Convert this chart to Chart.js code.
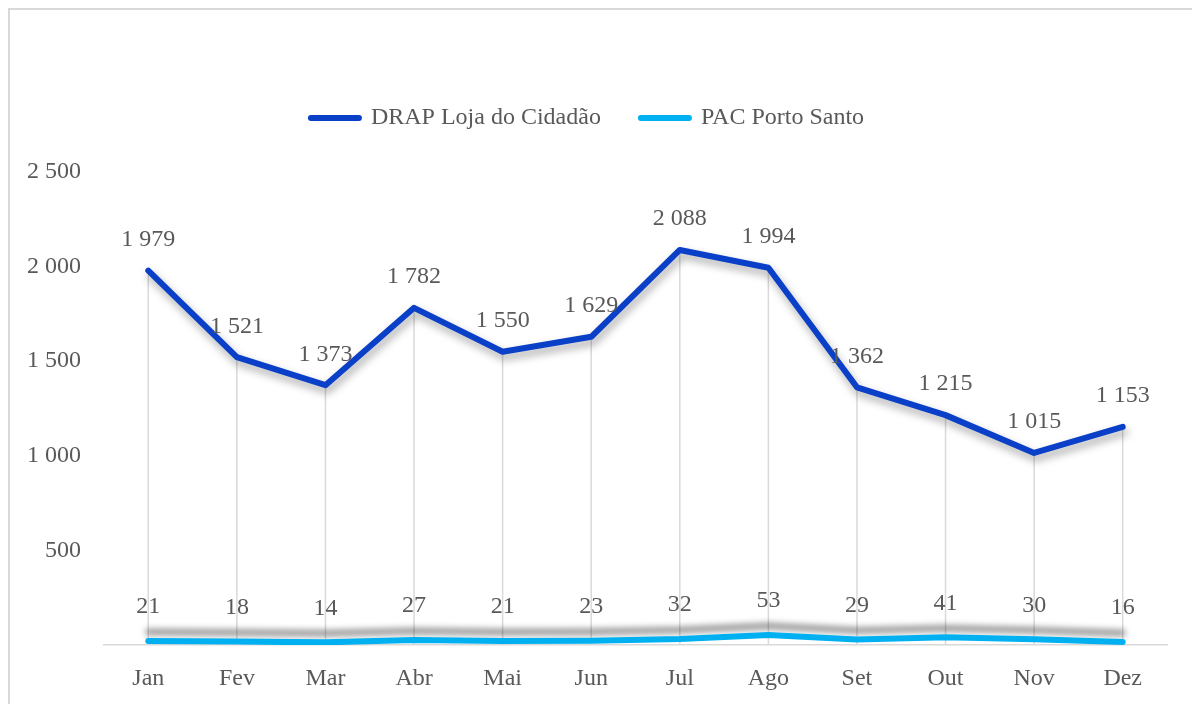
<!DOCTYPE html>
<html>
<head>
<meta charset="utf-8">
<script src="https://cdn.jsdelivr.net/npm/chart.js@4.4.1/dist/chart.umd.min.js"></script>
<style>
  html, body { margin: 0; padding: 0; background: #fff; overflow: hidden; }
  #wrap { position: relative; width: 1192px; height: 704px; }
  #frame { position: absolute; left: 8px; top: 8px; width: 1200px; height: 720px;
           border: 2px solid #d9d9d9; box-sizing: border-box; pointer-events: none; }
  canvas { position: absolute; left: 0; top: 0; }
</style>
</head>
<body>
<div id="wrap">
  <canvas id="lineChart" width="1192" height="704"></canvas>
  <div id="frame"></div>
</div>
<script>
// dados mensais
const meses = ['Jan', 'Fev', 'Mar', 'Abr', 'Mai', 'Jun', 'Jul', 'Ago', 'Set', 'Out', 'Nov', 'Dez'];
const drapLoja = [1979, 1521, 1373, 1782, 1550, 1629, 2088, 1994, 1362, 1215, 1015, 1153];
const pacPortoSanto = [21, 18, 14, 27, 21, 23, 32, 53, 29, 41, 30, 16];
const yTicks = [0, 500, 1000, 1500, 2000, 2500];

const fonte = 'Liberation Serif';
const tamanho = 24;
const cinza = '#595959';

// separador de milhares com espaco
function fmt(v) {
    return v.toString().replace(/\B(?=(\d{3})+(?!\d))/g, ' ');
}

// espaco extra por baixo da legenda
const legendSpace = {
    id: 'legendSpace',
    beforeLayout(chart) {
        const lg = chart.legend;
        if (lg && !lg._extraFit) {
            const orig = lg.fit;
            lg.fit = function () {
                orig.call(this);
                this.height += 32;
            };
            lg._extraFit = true;
        }
    }
};

// linhas verticais desde cada ponto da DRAP ate ao eixo
const dropLines = {
    id: 'dropLines',
    beforeDatasetsDraw(chart) {
        const ctx = chart.ctx;
        const meta = chart.getDatasetMeta(0);
        const bottom = chart.chartArea.bottom;
        ctx.save();
        ctx.strokeStyle = '#d9d9d9';
        ctx.lineWidth = 1.5;
        meta.data.forEach(p => {
            ctx.beginPath();
            ctx.moveTo(p.x, p.y);
            ctx.lineTo(p.x, bottom);
            ctx.stroke();
        });
        ctx.restore();
    }
};

// sombra das linhas
const lineShadow = {
    id: 'lineShadow',
    beforeDatasetDraw(chart, args) {
        const ctx = chart.ctx;
        ctx.save();
        if (args.index === 0) {
            ctx.shadowColor = 'rgba(0, 0, 0, 0.35)';
            ctx.shadowBlur = 8;
            ctx.shadowOffsetX = 2;
            ctx.shadowOffsetY = 5;
        } else {
            ctx.shadowColor = 'rgba(0, 0, 0, 0.45)';
            ctx.shadowBlur = 6;
            ctx.shadowOffsetX = 0;
            ctx.shadowOffsetY = -9;
        }
    },
    afterDatasetDraw(chart) {
        chart.ctx.restore();
    }
};

// rotulos de valores por cima dos pontos
const valueLabels = {
    id: 'valueLabels',
    afterDatasetsDraw(chart) {
        const ctx = chart.ctx;
        ctx.save();
        ctx.font = tamanho + 'px "' + fonte + '"';
        ctx.fillStyle = cinza;
        ctx.textAlign = 'center';
        ctx.textBaseline = 'middle';
        chart.data.datasets.forEach((ds, i) => {
            const meta = chart.getDatasetMeta(i);
            const off = i === 0 ? 31 : 34;
            meta.data.forEach((p, j) => {
                ctx.fillText(fmt(ds.data[j]), p.x, p.y - off);
            });
        });
        ctx.restore();
    }
};

new Chart(document.getElementById('lineChart'), {
    type: 'line',
    data: {
        labels: meses,
        datasets: [{
            label: 'DRAP Loja do Cidadão',
            data: drapLoja,
            borderColor: '#0a3fc8',
            backgroundColor: '#0a3fc8',
            borderWidth: 6,
            borderCapStyle: 'round',
            borderJoinStyle: 'round',
            pointRadius: 0,
            tension: 0
        }, {
            label: 'PAC Porto Santo',
            data: pacPortoSanto,
            borderColor: '#00b0f0',
            backgroundColor: '#00b0f0',
            borderWidth: 6,
            borderCapStyle: 'round',
            borderJoinStyle: 'round',
            pointRadius: 0,
            tension: 0
        }]
    },
    options: {
        responsive: false,
        animation: false,
        layout: {
            padding: { top: 66, left: 8, right: 25, bottom: 0 }
        },
        plugins: {
            tooltip: { enabled: false },
            legend: {
                position: 'top',
                labels: {
                    color: cinza,
                    font: { family: fonte, size: tamanho },
                    padding: 40,
                    usePointStyle: true,
                    pointStyleWidth: 48,
                    generateLabels(chart) {
                        return Chart.defaults.plugins.legend.labels.generateLabels(chart).map(item => {
                            item.pointStyle = 'line';
                            item.lineCap = 'round';
                            item.lineWidth = 6;
                            return item;
                        });
                    }
                }
            }
        },
        scales: {
            x: {
                offset: true,
                grid: { display: false, drawTicks: false, offset: true },
                border: { display: true, color: '#d9d9d9', width: 1.5 },
                ticks: {
                    color: cinza,
                    font: { family: fonte, size: tamanho },
                    padding: 19
                },
                afterFit(scale) { scale.height = 59; }
            },
            y: {
                min: yTicks[0],
                max: yTicks[yTicks.length - 1],
                grid: { display: false, drawTicks: false },
                border: { display: false },
                afterBuildTicks(scale) {
                    scale.ticks = yTicks.map(v => ({ value: v }));
                },
                afterFit(scale) { scale.width = 96; },
                ticks: {
                    color: cinza,
                    font: { family: fonte, size: tamanho },
                    padding: 23,
                    callback: v => v === 0 ? '' : fmt(v)
                }
            }
        }
    },
    plugins: [legendSpace, dropLines, lineShadow, valueLabels]
});
</script>
</body>
</html>
